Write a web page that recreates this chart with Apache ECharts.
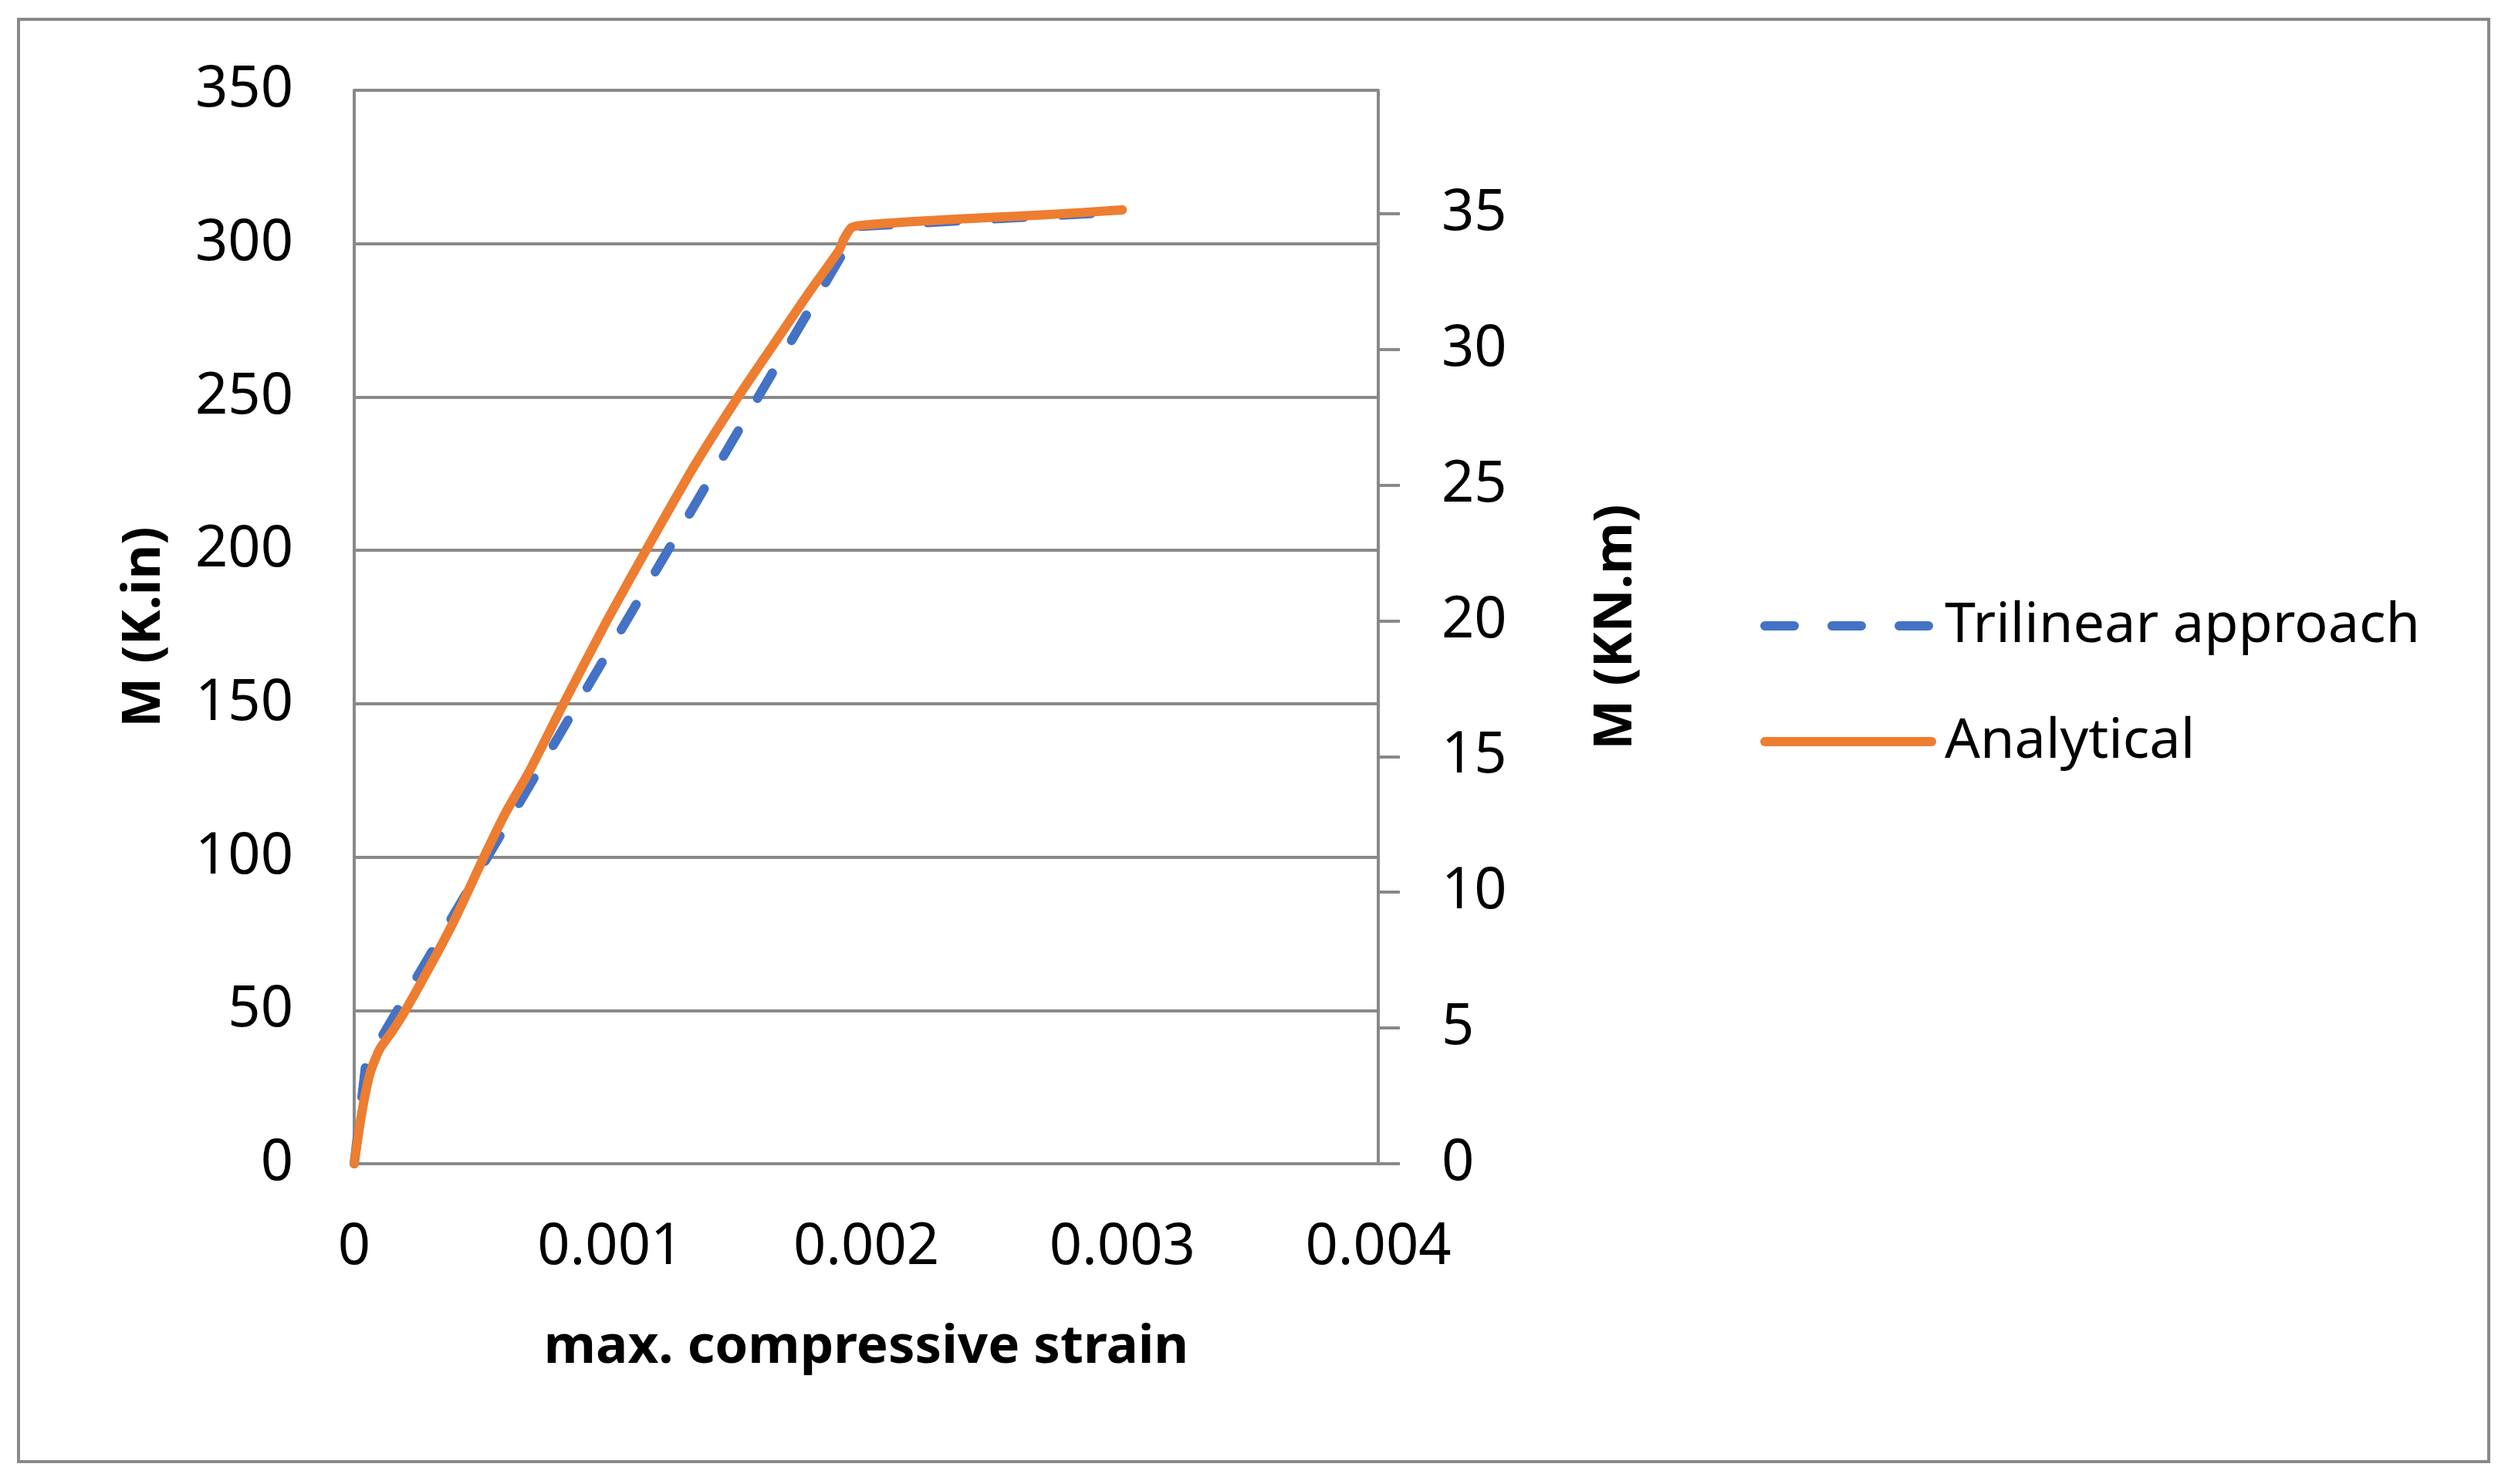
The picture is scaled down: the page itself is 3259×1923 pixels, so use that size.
<!DOCTYPE html>
<html>
<head>
<meta charset="utf-8">
<script src="https://cdn.jsdelivr.net/npm/echarts@6/dist/echarts.min.js"></script>
<style>
html,body{margin:0;padding:0;background:#fff;}
#chart{width:3259px;height:1923px;}
</style>
</head>
<body>
<div id="chart"></div>
<script>
// Data
var seriesNames = ['Trilinear approach', 'Analytical'];
var trilinearStrain = [0, 0.000045, 0.00197, 0.003];
var trilinearMoment = [0, 32.5, 305.6, 310.4];
var analyticalStrain = [0, 0.000018, 0.000038, 0.000063, 0.000099, 0.000149, 0.000199, 0.000289, 0.00039, 0.00051, 0.000591, 0.000683, 0.000817, 0.000988, 0.001139, 0.001329, 0.0015, 0.001651, 0.001781, 0.001892, 0.001912, 0.001942, 0.001982, 0.0022, 0.0025, 0.0027, 0.003];
var analyticalMoment = [0, 10.5, 20.5, 29.8, 37.3, 43.2, 49.9, 63.3, 79.2, 100.6, 114.4, 127.8, 149.9, 177.2, 199.9, 227.6, 250.1, 268.7, 284.6, 297.6, 301.4, 305.2, 306.0, 307.3, 308.6, 309.4, 311.0];
var xTicks = [0, 0.001, 0.002, 0.003, 0.004];
var leftTicks = [0, 50, 100, 150, 200, 250, 300, 350];
var rightTicks = [0, 5, 10, 15, 20, 25, 30, 35];
var kinToKNm = 0.112985;

function pairs(xs, ys) { return xs.map(function (x, i) { return [x, ys[i]]; }); }

var GRAY = '#898989';
var FONT = 'Noto Sans';
var chart = echarts.init(document.getElementById('chart'));
chart.setOption({
  backgroundColor: '#ffffff',
  animation: false,
  textStyle: { fontFamily: FONT },
  graphic: [{
    type: 'rect',
    shape: { x: 24, y: 25, width: 3201, height: 1869 },
    style: { fill: 'none', stroke: GRAY, lineWidth: 4 },
    silent: true
  }],
  grid: { left: 459, top: 117, width: 1327, height: 1391, containLabel: false },
  legend: {
    orient: 'vertical',
    left: 2276,
    top: 770,
    itemWidth: 216,
    itemHeight: 20,
    itemGap: 78,
    selectedMode: false,
    itemStyle: { opacity: 0 },
    lineStyle: { width: 12, cap: 'round', type: 'inherit' },
    textStyle: { fontFamily: FONT, fontSize: 72, color: '#000', lineHeight: 72, padding: [0, 0, 0, 12] },
    data: seriesNames
  },
  xAxis: {
    type: 'value',
    min: xTicks[0],
    max: xTicks[xTicks.length - 1],
    interval: 0.001,
    name: 'max. compressive strain',
    nameLocation: 'middle',
    nameGap: 204,
    nameTextStyle: { fontFamily: FONT, fontSize: 69, fontWeight: 'bold', color: '#000' },
    axisLine: { show: true, onZero: false, lineStyle: { color: GRAY, width: 4 } },
    axisTick: { show: false },
    splitLine: { show: false },
    axisLabel: {
      fontFamily: FONT, fontSize: 74, color: '#000', margin: 72,
      customValues: xTicks,
      formatter: function (v) { return v === 0 ? '0' : v.toFixed(3); }
    }
  },
  yAxis: [{
    type: 'value',
    position: 'left',
    min: leftTicks[0],
    max: leftTicks[leftTicks.length - 1],
    interval: 50,
    name: 'M (K.in)',
    nameLocation: 'middle',
    nameRotate: 90,
    nameGap: 237,
    nameTextStyle: { fontFamily: FONT, fontSize: 69, fontWeight: 'bold', color: '#000' },
    axisLine: { show: true, lineStyle: { color: GRAY, width: 4 } },
    axisTick: { show: false },
    splitLine: { show: true, lineStyle: { color: GRAY, width: 4 } },
    axisLabel: { fontFamily: FONT, fontSize: 74, color: '#000', margin: 79 }
  }, {
    type: 'value',
    position: 'right',
    min: 0,
    max: leftTicks[leftTicks.length - 1] * kinToKNm,
    interval: 5,
    name: 'M (KN.m)',
    nameLocation: 'middle',
    nameRotate: 90,
    nameGap: 274,
    nameTextStyle: { fontFamily: FONT, fontSize: 69, fontWeight: 'bold', color: '#000' },
    axisLine: { show: true, lineStyle: { color: GRAY, width: 4 } },
    axisTick: { show: true, inside: false, length: 28, customValues: rightTicks, lineStyle: { color: GRAY, width: 4 } },
    splitLine: { show: false },
    axisLabel: { fontFamily: FONT, fontSize: 74, color: '#000', margin: 82, customValues: rightTicks }
  }],
  series: [{
    name: seriesNames[0],
    type: 'line',
    yAxisIndex: 0,
    symbol: 'none',
    showSymbol: false,
    data: pairs(trilinearStrain, trilinearMoment),
    lineStyle: { color: '#4472C4', width: 12, type: [38, 49], cap: 'round', join: 'round' },
    itemStyle: { color: '#4472C4' },
    z: 2
  }, {
    name: seriesNames[1],
    type: 'line',
    yAxisIndex: 0,
    symbol: 'none',
    showSymbol: false,
    smooth: 0.2,
    data: pairs(analyticalStrain, analyticalMoment),
    lineStyle: { color: '#ED7D31', width: 12, cap: 'round', join: 'round' },
    itemStyle: { color: '#ED7D31' },
    z: 3
  }]
});
</script>
</body>
</html>
